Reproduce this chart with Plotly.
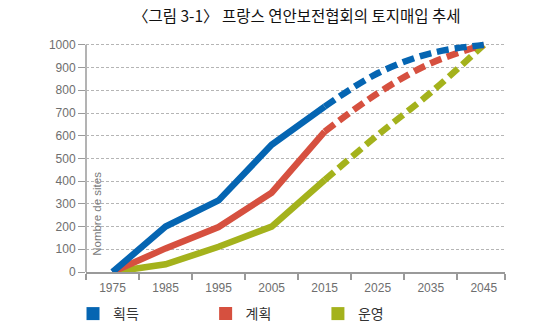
import plotly.graph_objects as go

# ---- data ----
years_solid = [1975, 1985, 1995, 2005, 2015]
years_proj = [2015, 2025, 2035, 2045]
tick_labels = ["1975", "1985", "1995", "2005", "2015", "2025", "2035", "2045"]
tick_years = [1975, 1985, 1995, 2005, 2015, 2025, 2035, 2045]
boundary_years = [1970, 1980, 1990, 2000, 2010, 2020, 2030, 2040, 2049]
y_ticks = [0, 100, 200, 300, 400, 500, 600, 700, 800, 900, 1000]

series_names = ["획득", "계획", "운영"]
acq_solid = [0, 200, 315, 560, 728]
acq_proj = [728, 875, 963, 1000]
plan_solid = [0, 104, 198, 349, 618]
plan_proj = [618, 787, 919, 1000]
oper_solid = [0, 34, 111, 200, 405]
oper_proj = [405, 603, 790, 1000]

colors = ["#0565b2", "#d6503f", "#a4b21c"]

title_text = "〈그림 3-1〉 프랑스 연안보전협회의 토지매입 추세"
ylabel_text = "Nombre de sites"

fig = go.Figure()

solids = [acq_solid, plan_solid, oper_solid]
projs = [acq_proj, plan_proj, oper_proj]
# draw green first, then red, then blue on top
for i in [2, 1, 0]:
    fig.add_trace(go.Scatter(x=years_solid, y=solids[i], mode="lines",
                             line=dict(color=colors[i], width=6.5),
                             showlegend=False, hoverinfo="skip"))
    fig.add_trace(go.Scatter(x=years_proj, y=projs[i], mode="lines",
                             line=dict(color=colors[i], width=6.5, dash="12px,6px", shape="spline"),
                             showlegend=False, hoverinfo="skip"))

legend_keys = ["legend", "legend2", "legend3"]
for i in range(3):
    fig.add_trace(go.Scatter(x=[None], y=[None], mode="markers", name=series_names[i],
                             marker=dict(symbol="square", size=13, color=colors[i]),
                             legend=legend_keys[i]))

leg_common = dict(orientation="h", yref="container", yanchor="middle", y=1 - 314 / 328,
                  xanchor="left",
                  font=dict(family="Noto Sans CJK KR", size=14, color="#333333"),
                  bgcolor="rgba(0,0,0,0)", itemsizing="trace")

fig.update_layout(
    width=537, height=328,
    margin=dict(l=86, r=32, t=41, b=56, autoexpand=False),
    paper_bgcolor="white", plot_bgcolor="white",
    title=dict(text=title_text, x=0.503, xref="paper", xanchor="center",
               y=1 - 17 / 328, yanchor="middle",
               font=dict(family="Noto Sans CJK KR", size=15.5, color="#111111")),
    xaxis=dict(range=[1970, 2049], tickmode="array", tickvals=tick_years, ticktext=tick_labels,
               ticks="", showgrid=False, zeroline=False,
               showline=True, linecolor="#9a9a9a", linewidth=1.5,
               tickfont=dict(family="Liberation Sans", size=12, color="#6e6e6e"),
               ticklabelstandoff=4,
               minor=dict(tickmode="array", tickvals=boundary_years, ticks="outside",
                          ticklen=6, tickwidth=1.5, tickcolor="#9a9a9a", showgrid=False)),
    yaxis=dict(range=[0, 1017], tickmode="array", tickvals=y_ticks,
               ticks="outside", ticklen=7, tickwidth=1.2, tickcolor="#9a9a9a",
               showgrid=True, gridcolor="#b5b5b5", gridwidth=1, griddash="3px,2px",
               zeroline=False, showline=False,
               tickfont=dict(family="Liberation Sans", size=12, color="#6e6e6e")),
    legend=dict(x=-0.031, **leg_common),
    legend2=dict(x=0.2855, **leg_common),
    legend3=dict(x=0.5535, **leg_common),
    shapes=[dict(type="line", xref="paper", yref="y", x0=0, x1=0, y0=0, y1=1000,
                 line=dict(color="#9a9a9a", width=1.5), layer="below")],
    annotations=[dict(text=ylabel_text, xref="paper", yref="y", x=0.026, y=62,
                      xanchor="center", yanchor="bottom", textangle=-90, showarrow=False,
                      font=dict(family="Liberation Sans", size=11.5, color="#7a7a7a"))],
)

fig.write_html("out.html")
